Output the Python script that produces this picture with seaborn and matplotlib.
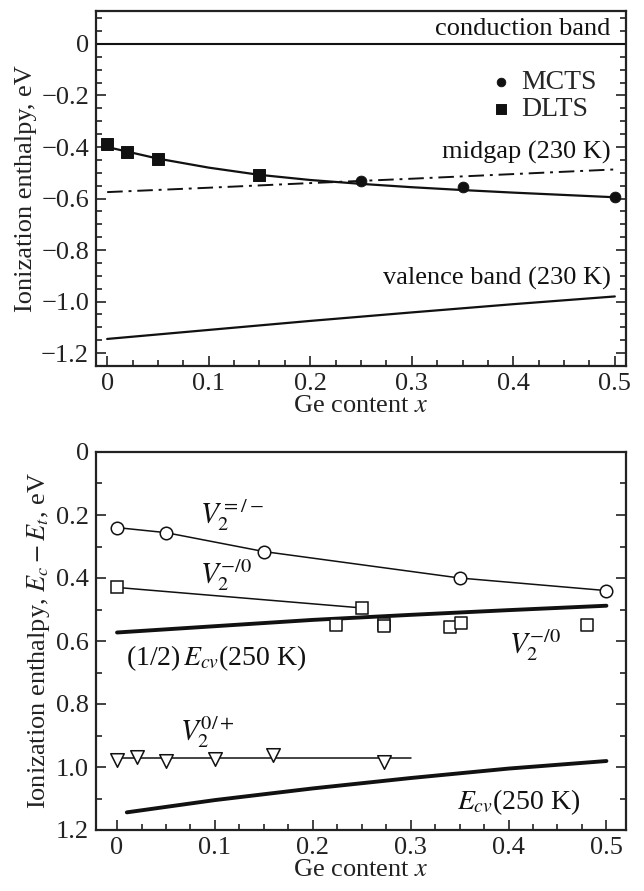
import matplotlib
matplotlib.use('Agg')
import matplotlib.pyplot as plt
from matplotlib.ticker import MultipleLocator, FuncFormatter
import pandas as pd
import seaborn as sns

# ---- top panel: ionization enthalpy vs Ge content ----
dlts_x = [0.0, 0.02, 0.05, 0.15]
dlts_y = [-0.39, -0.42, -0.445, -0.51]
mcts_x = [0.25, 0.35, 0.5]
mcts_y = [-0.53, -0.555, -0.595]

fit_x = [0.0, 0.05, 0.1, 0.15, 0.2, 0.25, 0.3, 0.35, 0.4, 0.45, 0.5]
fit_y = [-0.40, -0.445, -0.48, -0.508, -0.528, -0.543, -0.556, -0.567, -0.577, -0.586, -0.595]

mid_x = [0.0, 0.1, 0.2, 0.3, 0.4, 0.5]
mid_y = [-0.575, -0.558, -0.540, -0.523, -0.505, -0.487]

val_x = [0.0, 0.1, 0.2, 0.3, 0.4, 0.5]
val_y = [-1.145, -1.11, -1.075, -1.042, -1.01, -0.98]

# ---- bottom panel: V2 levels ----
v2mm_x = [0.0, 0.05, 0.15, 0.35, 0.5]
v2mm_y = [0.24, 0.256, 0.316, 0.40, 0.44]

v2m0_x = [0.0, 0.25]
v2m0_y = [0.43, 0.495]
v2m0b_x = [0.224, 0.273, 0.273, 0.340, 0.351, 0.480]
v2m0b_y = [0.549, 0.545, 0.553, 0.557, 0.543, 0.548]

v20p_x = [0.0, 0.02, 0.05, 0.10, 0.159, 0.273]
v20p_y = [0.978, 0.967, 0.980, 0.975, 0.962, 0.983]
v20p_line_x = [0.0, 0.30]
v20p_line_y = [0.970, 0.970]

ecv_x = [0.01, 0.1, 0.2, 0.3, 0.4, 0.5]
ecv_y = [1.144, 1.105, 1.068, 1.035, 1.005, 0.981]
half_x = [0.0, 0.1, 0.2, 0.3, 0.4, 0.5]
half_y = [0.573, 0.553, 0.533, 0.517, 0.502, 0.488]

sns.set_theme(style='ticks')
plt.rcParams['font.family'] = ['Liberation Serif', 'DejaVu Serif']
plt.rcParams['mathtext.fontset'] = 'stix'
plt.rcParams['axes.linewidth'] = 1.5

FS = 19


def num_fmt(v, pos):
    if abs(v) < 1e-9:
        return '0'
    s = f'{v:.1f}'
    return s.replace('-', '\u2212')


def style_axes(ax, ymajor, yminor):
    ax.xaxis.set_major_locator(MultipleLocator(0.1))
    ax.xaxis.set_minor_locator(MultipleLocator(0.025))
    ax.yaxis.set_major_locator(MultipleLocator(ymajor))
    ax.yaxis.set_minor_locator(MultipleLocator(yminor))
    ax.xaxis.set_major_formatter(FuncFormatter(num_fmt))
    ax.yaxis.set_major_formatter(FuncFormatter(num_fmt))
    ax.tick_params(which='both', direction='in', left=True, right=True,
                   bottom=True, top=False, width=1.2, colors='#222222',
                   labelsize=FS, labelcolor='#222222')
    ax.tick_params(which='major', length=7, pad=5)
    ax.tick_params(which='minor', length=4)
    for sp in ax.spines.values():
        sp.set_color('#222222')
        sp.set_linewidth(1.6)
    ax.set_xlabel('Ge content $x$', fontsize=FS, color='#222222', labelpad=0)


fig = plt.figure(figsize=(6.44, 8.91), dpi=100)
ax1 = fig.add_axes([96 / 644, 1 - 366 / 891, 530 / 644, 355 / 891])
ax2 = fig.add_axes([96 / 644, 1 - 830 / 891, 530 / 644, 378 / 891])

k = '#111111'

# top panel
ax1.axhline(0, color=k, lw=1.5)
sns.lineplot(x=fit_x, y=fit_y, ax=ax1, color=k, lw=1.6, estimator=None, sort=False)
sns.lineplot(x=mid_x, y=mid_y, ax=ax1, color=k, lw=1.4, estimator=None, sort=False,
             linestyle=(0, (8, 3, 1.5, 3)))
sns.lineplot(x=val_x, y=val_y, ax=ax1, color=k, lw=1.6, estimator=None, sort=False)
sns.scatterplot(x=mcts_x, y=mcts_y, ax=ax1, color=k, marker='o', s=60,
                edgecolor=k, label='MCTS', zorder=5)
sns.scatterplot(x=dlts_x, y=dlts_y, ax=ax1, color=k, marker='s', s=75,
                edgecolor=k, label='DLTS', zorder=5)
ax1.legend(loc='upper right', bbox_to_anchor=(0.965, 0.865), frameon=False,
           fontsize=FS + 1, handletextpad=0.1, borderaxespad=0,
           labelspacing=0.05, markerscale=0.8, handlelength=1.2)

ax1.set_xlim(-0.011, 0.511)
ax1.set_ylim(-1.25, 0.128)
style_axes(ax1, 0.2, 0.05)
ax1.set_ylabel('Ionization enthalpy, eV', fontsize=FS, color='#222222', labelpad=3)

ax1.text(0.496, 0.058, 'conduction band', ha='right', va='center', fontsize=FS, color=k)
ax1.text(0.496, -0.42, 'midgap (230 K)', ha='right', va='center', fontsize=FS, color=k)
ax1.text(0.496, -0.91, 'valence band (230 K)', ha='right', va='center', fontsize=FS, color=k)

# bottom panel
sns.lineplot(x=v2mm_x, y=v2mm_y, ax=ax2, color=k, lw=1.1, estimator=None, sort=False,
             marker='o', markersize=9, markerfacecolor='white', markeredgecolor=k,
             markeredgewidth=1.1)
sns.lineplot(x=v2m0_x, y=v2m0_y, ax=ax2, color=k, lw=1.1, estimator=None, sort=False,
             marker='s', markersize=8.5, markerfacecolor='white', markeredgecolor=k,
             markeredgewidth=1.1)
sns.scatterplot(x=v2m0b_x, y=v2m0b_y, ax=ax2, marker='s', s=70, facecolor='white',
                edgecolor=k, linewidth=1.1, zorder=4)
sns.lineplot(x=v20p_line_x, y=v20p_line_y, ax=ax2, color=k, lw=1.1, estimator=None, sort=False)
sns.scatterplot(x=v20p_x, y=v20p_y, ax=ax2, marker='v', s=95, facecolor='white',
                edgecolor=k, linewidth=1.1, zorder=4)
sns.lineplot(x=half_x, y=half_y, ax=ax2, color=k, lw=2.8, estimator=None, sort=False)
sns.lineplot(x=ecv_x, y=ecv_y, ax=ax2, color=k, lw=2.8, estimator=None, sort=False)

ax2.set_xlim(-0.0215, 0.52)
ax2.set_ylim(1.2, 0.0)
style_axes(ax2, 0.2, 0.1)
ax2.set_ylabel('Ionization enthalpy, $E_c - E_t$, eV', fontsize=FS, color='#222222', labelpad=3)

TFS = FS + 2
ax2.text(0.085, 0.20, r'$V_2^{=/-}$', ha='left', va='center', fontsize=TFS, color=k)
ax2.text(0.085, 0.39, r'$V_2^{-/0}$', ha='left', va='center', fontsize=TFS, color=k)
ax2.text(0.40, 0.615, r'$V_2^{-/0}$', ha='left', va='center', fontsize=TFS, color=k)
ax2.text(0.064, 0.89, r'$V_2^{0/+}$', ha='left', va='center', fontsize=TFS, color=k)
ax2.text(0.009, 0.655, r'(1/2)$\,E_{cv}$(250 K)', ha='left', va='center', fontsize=FS + 1, color=k)
ax2.text(0.347, 1.11, r'$E_{cv}$(250 K)', ha='left', va='center', fontsize=FS + 1, color=k)

fig.savefig('out.png', dpi=100)
